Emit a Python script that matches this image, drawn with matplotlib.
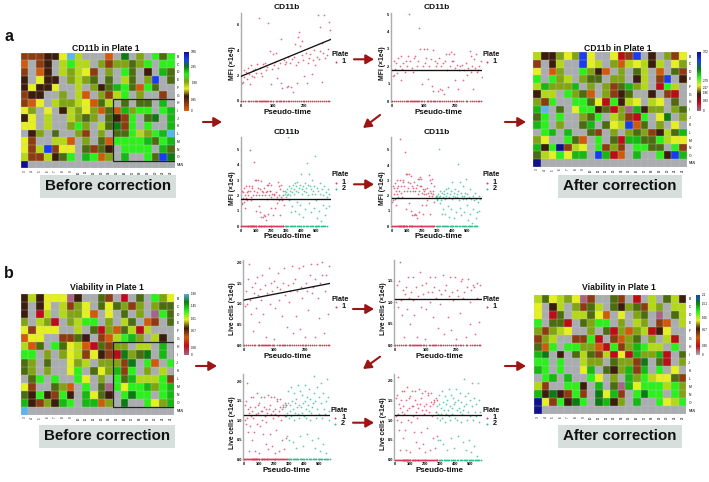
"""
Plate heatmaps and pseudo-time scatter panels, before and after correction
"""

import numpy as np
import matplotlib
matplotlib.use("Agg")
import matplotlib.pyplot as plt
from matplotlib.colors import ListedColormap, LinearSegmentedColormap
from matplotlib.patches import Rectangle

plt.rcParams["font.family"] = ["Liberation Sans", "DejaVu Sans"]
plt.rcParams["font.weight"] = "bold"

W, H = 709, 482

# ------------------------------------------------------------
# HEATMAPS (one character per well, "." = empty well)
# ------------------------------------------------------------
CELL_CODES = "0123456789abcde"
CELL_COLORS = ["#cf5a0c", "#8c3c10", "#3c1c0c", "#e6f01e", "#b4d818", "#80a414", "#4c6c10",
               "#2cf01c", "#18b814", "#0e7a14", "#1a3cf0", "#10108c", "#5ab4f0", "#bc0c18", "#a86484"]
ROW_LABELS = list("BCDEFGHIJKLMNO") + ["NAN"]
COL_LABELS = [str(i) for i in range(3, 23)]

cd11b_before = ["111223c4...0.9.5.767", "0.12.4744.5155657.77", "1.02.45431.5.76.2.86", "2.322.5456.6.46.5a.6",
                "23223..4.526876076..", "122..5.40.5147.5..1.", "103.45543064.6.66.8.", "35.3.245350608577.78",
                "23.4..4565.6217.69.8", "33.4..575.46917.7..8", ".25.6..51.5.6674578c", "31..440.5.6077778678",
                "314a133.6162.7777.86", "4114267.8705.8..76a9", "b..................."]
cd11b_after = ["422535a3..3d1a.2.513", "1.24..a34.5043424.35", "3.05..7520.5.64.0.61", "7.754.566.55.24.1a.2",
               "485558.5.516854.d74.", "244.7560.5126..2.1d.", "517..7763d7243.43.6.", "8c.6.37726d5e8255.56",
               "67.7..567.451d7.39.5", "87.5..68.634a06.5.3.", ".78.8..61.5.56512468", "53..760.7.6d88667433",
               "827b143.7151.7766.71", "6437388.a8d0.8..72a8", "b..................."]
via_before = ["242333e2..61.d.6.753", "2.23.4153.636515.566", "2.d4.45530.3.6.5.e76", "5.45d.5477.5.46.01.6",
              "31333..4.6d5064d4...", "033..1162.104785.42.", "406.76340d6155.44.8.", "77.5.5341321d9569.8.",
              "65.6..354.55519.70.7", "65.5..37.635817.5.4.", ".67.7..73.5.76844471", "31..650.7.6e73778578",
              "6272172.8362.7977.78", "8215287.8805.9..7358", "c..................."]
via_after = ["463453e1..61.d.4.642", "3.24.5164.6256145.44", "3.d6.44630.3.56.e.64", "7.66d.6577.5.45.10.4",
             "51543..5.6d5054d23..", "154..117d.1056.5.4d.", "607.77550d7158744.7.", "89.2.64614d3d8558d.6",
             "77.7..455.65519.6d.5", "87.7..38.625818.7.3.", ".78.8..73.5.85743361", "41..772.8.6e83777475",
             "8292171.9381.7977.75", "b317297.9825.8..7347", "b..................."]

cbar_cd11b_before = ["#e0600f", "#8a3a10", "#3a1a08", "#e8f01e", "#7ea010", "#2cf01c", "#0e7a14", "#1a3cf0", "#10108c"]
cbar_cd11b_after = ["#a86484", "#bc0c18", "#3c1c0c", "#e6f01e", "#2cf01c", "#0e7a14", "#1a3cf0", "#10108c"]
cbar_via_before = ["#a86484", "#bc0c18", "#cf5a0c", "#3c1c0c", "#e6f01e", "#2cf01c", "#0e7a14", "#5ab4f0"]
cbar_via_after = ["#a9adb0", "#bc0c18", "#cf5a0c", "#3c1c0c", "#e6f01e", "#2cf01c", "#0e7a14", "#1a3cf0"]
cbar_ticks_cd11b_before = ["0", "0.95", "1.90", "2.85", "3.80"]
cbar_ticks_cd11b_after = ["0", "0.93", "1.86", "2.17", "2.79", "3.72"]
cbar_ticks_via_before = ["0", "0.28", "0.57", "1.01", "1.45", "1.90"]
cbar_ticks_via_after = ["0", "0.30", "0.57", "1.06", "1.51", "2.1"]

# ------------------------------------------------------------
# SCATTER DATA, CD11b
# ------------------------------------------------------------
cd11b_x1 = [2, 5, 8, 10, 14, 17, 20, 24, 27, 30, 33, 36, 40, 43, 47, 50, 55, 58, 62, 66, 70, 74, 78, 82, 85,
            90, 95, 98, 100, 104, 108, 110, 115, 118, 122, 125, 128, 130, 135, 138, 142, 145, 148, 150, 155,
            158, 162, 165, 168, 170, 174, 178, 180, 182, 185, 188, 192, 195, 198, 200, 205, 208, 212, 216, 220,
            225, 228, 232, 236, 240, 245, 248, 250, 252, 256, 258, 262, 265, 268, 272, 276, 280, 283]
cd11b_raw = [1.4, 1.5, 2.4, 1.9, 2.3, 1.7, 2.6, 2.1, 1.3, 2.8, 2.0, 2.4, 1.9, 2.5, 2.2, 2.9, 6.5, 2.6, 2.2, 2.0,
             2.9, 3.0, 2.4, 2.7, 6.1, 3.9, 1.3, 2.5, 3.7, 2.8, 3.1, 3.8, 1.8, 2.6, 3.0, 1.4, 4.9, 1.0, 3.2, 2.9,
             3.1, 1.1, 3.5, 1.2, 3.0, 1.1, 3.3, 0.7, 3.5, 4.5, 2.8, 1.4, 5.0, 3.1, 5.4, 4.3, 3.6, 4.7, 3.2, 2.0,
             3.8, 1.4, 3.0, 3.4, 3.7, 2.1, 3.2, 4.0, 2.8, 3.5, 6.8, 3.3, 5.8, 3.9, 1.5, 4.6, 3.8, 6.75, 3.4, 3.6,
             4.1, 6.2, 5.6]
cd11b_flat = [1.45, 1.5, 2.3, 1.85, 2.2, 1.6, 2.5, 2.0, 1.2, 2.6, 1.85, 2.2, 1.7, 2.3, 2.0, 2.6, 5.0, 2.3, 1.9, 1.7,
              2.5, 2.6, 2.0, 2.3, 4.2, 3.0, 1.0, 2.0, 3.0, 2.2, 2.5, 3.0, 1.3, 2.0, 2.4, 0.9, 2.95, 0.6, 2.3, 2.0,
              2.2, 0.6, 2.5, 0.7, 2.0, 0.65, 2.2, 0.4, 2.3, 2.7, 1.8, 0.8, 2.7, 2.0, 2.8, 2.3, 2.3, 2.7, 1.9, 1.2,
              2.1, 0.7, 1.8, 2.0, 2.1, 1.2, 1.8, 2.2, 1.5, 1.9, 2.9, 1.7, 2.6, 2.0, 0.7, 2.4, 1.9, 2.7, 1.7, 1.8,
              2.0, 2.3, 1.4]
cd11b_corr1 = [1.6, 1.7, 2.6, 2.1, 2.5, 1.8, 2.8, 2.3, 1.4, 3.0, 2.1, 2.5, 1.9, 2.6, 2.3, 3.0, 5.75, 2.6, 2.2, 1.9,
               2.9, 3.0, 2.3, 2.6, 4.85, 3.4, 1.15, 2.3, 3.4, 2.5, 2.9, 3.4, 1.5, 2.3, 2.8, 1.0, 3.3, 0.7, 2.6, 2.3,
               2.5, 0.7, 2.9, 0.8, 2.3, 0.75, 2.5, 0.5, 2.7, 3.1, 2.1, 0.9, 3.1, 2.3, 3.2, 2.6, 2.6, 3.1, 2.2, 1.4,
               2.4, 0.8, 2.1, 2.3, 2.4, 1.4, 2.1, 2.5, 1.7, 2.2, 3.35, 2.0, 3.0, 2.3, 0.8, 2.8, 2.2, 3.1, 2.0, 2.1,
               2.3, 2.6, 1.6]
cd11b_x2 = [290, 294, 297, 300, 303, 306, 310, 313, 317, 320, 323, 327, 330, 334, 337, 341, 344, 348, 351, 355,
            358, 362, 366, 370, 374, 378, 382, 386, 390, 394, 398, 402, 406, 410, 414, 418, 422, 426, 430, 434,
            438, 442, 446, 450, 454, 458, 462, 466, 470, 474, 478, 482, 486, 490, 494, 498, 502, 507, 512, 517,
            522, 527, 532, 537, 542, 547, 552, 557, 562, 567, 572, 577, 582, 587]
cd11b_plate2 = [2.1, 2.3, 1.9, 2.2, 2.0, 2.4, 5.8, 2.1, 1.7, 2.6, 2.3, 2.0, 0.9, 2.5, 2.2, 1.3, 2.7, 2.4, 2.1, 1.0,
                2.8, 2.3, 2.6, 1.6, 2.9, 2.2, 0.8, 2.5, 2.7, 1.4, 3.4, 2.1, 2.4, 0.6, 2.6, 2.3, 2.8, 1.1, 2.5, 2.2,
                4.1, 2.7, 2.0, 3.4, 1.5, 2.6, 0.9, 2.4, 2.1, 3.0, 2.3, 1.2, 2.6, 4.6, 2.1, 1.7, 2.5, 0.5, 2.3, 1.0,
                2.8, 2.1, 0.3, 2.4, 1.4, 2.0, 2.6, 0.7, 2.2, 1.2, 1.9, 2.4, 1.3, 2.1]
cd11b_corr2 = [1.9, 2.0, 1.7, 2.0, 1.8, 2.1, 5.05, 1.9, 1.5, 2.3, 2.0, 1.7, 0.8, 2.2, 1.9, 1.1, 2.3, 2.1, 1.8, 0.8,
               2.4, 2.0, 2.2, 1.3, 2.5, 1.9, 0.6, 2.1, 2.3, 1.1, 2.9, 1.8, 2.0, 0.5, 2.2, 1.9, 2.4, 0.9, 2.1, 1.9,
               4.05, 2.3, 1.7, 2.9, 1.2, 2.2, 0.7, 2.0, 1.8, 2.6, 2.0, 0.9, 2.2, 3.1, 1.8, 1.4, 2.1, 0.4, 1.9, 0.8,
               2.4, 1.8, 0.2, 2.0, 1.1, 1.7, 2.2, 0.5, 1.8, 0.9, 1.6, 2.0, 1.0, 1.8]

# ------------------------------------------------------------
# SCATTER DATA, VIABILITY
# ------------------------------------------------------------
via_x1 = [3, 5, 9, 13, 15, 19, 22, 25, 29, 31, 35, 39, 42, 46, 49, 52, 57, 60, 63, 68, 71, 76, 81, 84, 88,
          91, 97, 100, 103, 108, 113, 116, 120, 125, 128, 131, 136, 141, 144, 147, 152, 157, 160, 163, 168,
          173, 176, 180, 185, 188, 191, 196, 201, 204, 207, 212, 217, 220, 223, 228, 233, 236, 240, 245, 248,
          251, 256, 259, 264, 268, 271, 276, 280]
via_raw = [0.95, 1.3, 1.0, 1.6, 1.97, 1.1, 0.75, 1.4, 0.35, 1.25, 1.5, 0.9, 1.65, 1.2, 0.55, 1.35, 1.1, 1.7, 0.75, 1.45,
           0.2, 1.25, 1.85, 1.0, 1.5, 1.3, 0.15, 1.55, 0.9, 1.4, 1.75, 1.1, 1.35, 0.7, 1.5, 1.85, 1.2, 0.45, 1.45, 1.05,
           1.3, 1.9, 0.3, 1.5, 1.6, 0.7, 1.3, 1.85, 0.4, 1.4, 1.15, 1.9, 0.2, 1.5, 1.3, 0.85, 1.7, 1.95, 1.25, 1.4,
           0.2, 1.6, 1.95, 1.15, 0.65, 1.5, 1.7, 2.0, 0.3, 1.3, 1.7, 0.75, 1.9]
via_flat = [1.0, 1.4, 0.9, 1.5, 1.95, 1.05, 0.7, 1.3, 0.2, 1.2, 1.35, 0.85, 1.6, 1.1, 0.5, 1.25, 1.05, 1.6, 0.7, 1.35,
            0.2, 1.15, 1.7, 0.9, 1.4, 1.2, 0.15, 1.45, 0.85, 1.25, 1.6, 1.0, 1.25, 0.65, 1.35, 1.6, 1.1, 0.4, 1.3, 0.95,
            1.2, 1.65, 0.25, 1.3, 1.4, 0.65, 1.15, 1.6, 0.35, 1.25, 1.05, 1.6, 0.15, 1.3, 1.15, 0.75, 1.5, 1.55, 1.1, 1.25,
            0.2, 1.35, 1.55, 1.0, 0.5, 1.3, 1.4, 1.35, 0.25, 1.1, 1.45, 0.55, 1.4]
via_corr1 = [1.1, 1.55, 1.0, 1.65, 2.1, 1.15, 0.75, 1.4, 0.25, 1.3, 1.5, 0.95, 1.75, 1.2, 0.55, 1.35, 1.15, 1.75, 0.75, 1.5,
             0.25, 1.25, 1.85, 1.0, 1.55, 1.3, 0.2, 1.6, 0.95, 1.35, 1.75, 1.1, 1.35, 0.7, 1.5, 1.75, 1.2, 0.45, 1.4, 1.05,
             1.3, 1.8, 0.3, 1.4, 1.55, 0.7, 1.25, 1.7, 0.4, 1.35, 1.15, 1.75, 0.2, 1.4, 1.25, 0.8, 1.65, 1.7, 1.2, 1.35,
             0.25, 1.45, 1.7, 1.1, 0.55, 1.4, 1.5, 1.45, 0.3, 1.2, 1.55, 0.6, 1.5]
via_x2 = [272, 276, 279, 283, 286, 290, 293, 297, 300, 304, 307, 311, 314, 318, 321, 325, 328, 332, 336, 340,
          343, 347, 351, 355, 358, 362, 366, 370, 374, 378, 381, 385, 389, 393, 397, 401, 405, 408, 412, 416,
          420, 424, 428, 432, 436, 440, 444, 448, 452, 456, 461, 465, 469, 474, 478, 483, 487, 491, 496, 500,
          505, 509, 514, 518, 523, 527, 532, 536, 541, 546, 551, 556, 561, 566]
via_plate2 = [1.35, 1.1, 1.4, 0.6, 1.2, 1.45, 1.75, 1.05, 0.5, 1.4, 1.25, 1.85, 1.1, 1.5, 0.45, 1.3, 1.7, 1.0, 1.45, 1.2,
              0.3, 1.55, 1.35, 1.9, 1.15, 1.4, 1.05, 1.75, 0.6, 1.35, 1.2, 1.65, 1.45, 0.35, 1.1, 1.5, 1.9, 1.3, 1.05, 1.6,
              0.65, 1.4, 1.8, 1.25, 1.0, 1.55, 1.2, 1.35, 0.5, 1.45, 2.15, 1.7, 0.3, 1.5, 1.05, 1.85, 1.3, 0.55, 1.6, 1.15,
              0.2, 1.45, 1.95, 1.05, 1.7, 0.4, 1.3, 1.15, 1.5, 0.15, 2.07, 1.6, 1.0, 1.25]
via_corr2 = [1.2, 1.05, 1.35, 0.5, 1.15, 1.4, 1.65, 1.0, 0.5, 1.3, 1.15, 1.75, 1.05, 1.45, 0.4, 1.25, 1.6, 0.95, 1.4, 1.15,
             0.25, 1.5, 1.25, 1.8, 1.1, 1.35, 1.0, 1.65, 0.55, 1.3, 1.15, 1.55, 1.4, 0.3, 1.05, 1.45, 1.8, 1.25, 1.0, 1.5,
             0.6, 1.3, 1.7, 1.2, 0.95, 1.45, 1.15, 1.25, 0.45, 1.35, 2.05, 1.6, 0.25, 1.4, 1.0, 1.7, 1.2, 0.5, 1.5, 1.1,
             0.2, 1.35, 1.93, 1.0, 1.55, 0.35, 1.2, 1.1, 1.4, 0.1, 1.93, 1.5, 0.95, 1.2]

# wells that read exactly zero, one list per plate
zero_x1 = [0, 6, 12, 20, 26, 31, 37, 45, 48, 50, 56, 59, 62, 66, 70, 73, 76, 80, 83, 86, 92, 95, 100, 110, 115, 120,
           124, 128, 132, 136, 142, 148, 152, 158, 165, 170, 178, 184, 190, 196, 201, 206, 212, 218, 225, 232, 238,
           246, 252, 258, 264, 270, 276, 281]
zero_x2 = [292, 298, 305, 314, 322, 330, 338, 345, 352, 360, 368, 376, 384, 392, 400, 408, 418, 428, 436, 446, 456,
           464, 472, 480, 488, 496, 504, 512, 520, 528, 536, 544, 552, 560, 568]

# fit lines, value at the start and at the end of the axis
line_raw = [1.95, 4.85]
line_flat = [1.79, 1.79]
line_p3 = [1.75, 1.75]
line_p4 = [1.81, 1.81]
line_via_raw = [1.09, 1.49]
line_via_flat = [1.08, 1.08]
line_via_p7 = [1.13, 1.13]
line_via_p8 = [1.12, 1.12]

COLOR_P1 = "#dc3a5a"
COLOR_P2 = "#2fbc8c"
COLOR_GRAY = "#a9adb0"
COLOR_ARROW = "#9c1414"
COLOR_BOX = "#d6dfdc"

fig = plt.figure(figsize=(W / 100, H / 100), dpi=100, facecolor="white")


def px_axes(left, top, right, bottom, **kw):
    return fig.add_axes([left / W, 1 - bottom / H, (right - left) / W, (bottom - top) / H], **kw)


# overlay in pixel coordinates for labels, arrows and legends
over = fig.add_axes([0, 0, 1, 1], zorder=5)
over.set_xlim(0, W)
over.set_ylim(H, 0)
over.axis("off")


def draw_heatmap(rows, box, cbar_box, cbar_colors, cbar_ticks, cbar_pos, title, title_xy, frame=False):
    ax = px_axes(*box)
    cells = np.array([[CELL_CODES.find(c) for c in r] for r in rows], dtype=float)
    cells = np.ma.masked_less(cells, 0)
    cmap = ListedColormap(CELL_COLORS)
    cmap.set_bad(COLOR_GRAY)
    ax.set_facecolor(COLOR_GRAY)
    ax.pcolormesh(cells, cmap=cmap, vmin=-0.5, vmax=len(CELL_CODES) - 0.5, edgecolors="none", antialiased=False)
    ax.set_xlim(0, 20)
    ax.set_ylim(15, 0)
    ax.set_xticks(np.arange(20) + 0.5)
    ax.set_xticklabels(COL_LABELS, fontsize=2.2, rotation=90, fontweight="normal")
    ax.yaxis.tick_right()
    ax.set_yticks(np.arange(15) + 0.5)
    ax.set_yticklabels(ROW_LABELS, fontsize=2.4, fontweight="normal")
    ax.set_xticks(np.arange(21), minor=True)
    ax.set_yticks(np.arange(16), minor=True)
    ax.grid(which="minor", color="#c6c8ca", linewidth=0.25)
    ax.set_axisbelow(False)
    ax.tick_params(which="both", length=0, pad=1.5)
    for spine in ax.spines.values():
        spine.set_visible(False)
    if frame:
        ax.add_patch(Rectangle((12, 6), 8, 8, fill=False, edgecolor="#222222", linewidth=0.9, zorder=4))
    over.text(title_xy[0], title_xy[1], title, ha="center", va="center", fontsize=6.2, color="#111111")

    cax = px_axes(*cbar_box)
    ramp = np.linspace(0, 1, 128).reshape(-1, 1)
    cax.imshow(ramp, aspect="auto", origin="lower", cmap=LinearSegmentedColormap.from_list("bar", cbar_colors))
    cax.axis("off")
    for lab, frac in zip(cbar_ticks, cbar_pos):
        y = cbar_box[3] - frac * (cbar_box[3] - cbar_box[1])
        over.text(cbar_box[2] + 2, y, lab, fontsize=2.2, va="center", ha="left", fontweight="normal")


def draw_scatter(box, xlim, ylim, xticks, yticks, ylabels, plates, fit, ylabel, ylabel_gap, title=None, legend=None, xlabel_xy=None):
    ax = px_axes(*box)
    ax.patch.set_alpha(0)
    for x, y, zero, col in plates:
        ax.scatter(zero, np.zeros(len(zero)), s=1.6, color=col, linewidths=0, clip_on=False, zorder=3)
        ax.scatter(x, y, s=1.6, color=col, linewidths=0, alpha=0.75, zorder=2)
    ax.plot([0, xlim[1]], fit, color="#111111", linewidth=0.95, zorder=4)
    ax.set_xlim(*xlim)
    ax.set_ylim(*ylim)
    ax.set_xticks(xticks)
    ax.set_yticks(yticks)
    ax.set_xticklabels([str(t) for t in xticks], fontsize=2.8)
    ax.set_yticklabels(ylabels, fontsize=2.8)
    ax.tick_params(length=0.6, width=0.3, pad=0.5, color="#444444")
    for name in ["top", "right", "bottom"]:
        ax.spines[name].set_visible(False)
    ax.spines["left"].set_color(COLOR_GRAY)
    ax.spines["left"].set_linewidth(1.0)
    over.text(box[0] - ylabel_gap, (box[1] + box[3]) / 2 + 6, ylabel, rotation=90, ha="center", va="center", fontsize=4.9, color="#111111")
    over.text(xlabel_xy[0], xlabel_xy[1], "Pseudo-time", ha="center", va="center", fontsize=5.8, color="#111111")
    if title:
        over.text(title[0], title[1], "CD11b", ha="center", va="center", fontsize=6, color="#111111")
    # plate legend
    lx, ly = legend
    over.text(lx + 4, ly, "Plate", ha="center", va="center", fontsize=5.2, color="#111111")
    for i, (x, y, zero, col) in enumerate(plates):
        yy = ly + 7.5 + i * 6.4
        over.scatter([lx], [yy], s=2, color=col, linewidths=0)
        over.text(lx + 6, yy, str(i + 1), ha="left", va="center", fontsize=5.2, color="#111111")


def draw_arrow(x0, y0, x1, y1):
    over.annotate("", xy=(x1, y1), xytext=(x0, y0),
                  arrowprops=dict(arrowstyle="-|>,head_length=0.48,head_width=0.28", color=COLOR_ARROW,
                                  linewidth=1.5, shrinkA=0, shrinkB=0))


# ------------------------------------------------------------
# LEFT AND RIGHT HEATMAPS
# ------------------------------------------------------------
draw_heatmap(cd11b_before, (20.7, 52.7, 174.7, 168.3), (184.3, 52.3, 189.3, 110.7), cbar_cd11b_before,
             cbar_ticks_cd11b_before, [0, 0.19, 0.47, 0.74, 1], "CD11b in Plate 1", (105.7, 48.2), frame=True)
draw_heatmap(cd11b_after, (533.3, 52.3, 686.7, 166.7), (696.7, 52.3, 700.7, 110.7), cbar_cd11b_after,
             cbar_ticks_cd11b_after, [0, 0.17, 0.3, 0.39, 0.51, 1], "CD11b in Plate 1", (618, 48.2))
draw_heatmap(via_before, (20.7, 294.3, 174.3, 414.7), (184, 294, 189, 355.3), cbar_via_before,
             cbar_ticks_via_before, [0, 0.12, 0.4, 0.6, 0.8, 1], "Viability in Plate 1", (106.7, 288), frame=True)
draw_heatmap(via_after, (534, 295, 686.3, 414), (696, 295, 700, 355.3), cbar_via_after,
             cbar_ticks_via_after, [0, 0.15, 0.42, 0.62, 0.85, 1], "Viability in Plate 1", (619, 288))

for text, (x0, y0, x1, y1) in [("Before correction", (40, 175, 175.7, 198)), ("After correction", (558, 175, 681.7, 198)),
                               ("Before correction", (39, 425, 175, 448)), ("After correction", (558, 425, 682, 448))]:
    over.add_patch(Rectangle((x0, y0), x1 - x0, y1 - y0, facecolor=COLOR_BOX, edgecolor="none"))
    over.text((x0 + x1) / 2, (y0 + y1) / 2, text, ha="center", va="center", fontsize=10.9, color="#111111")

over.text(9, 36.5, "a", ha="center", va="center", fontsize=11.5, color="#111111")
over.text(9, 274, "b", ha="center", va="center", fontsize=11.5, color="#111111")

# ------------------------------------------------------------
# SCATTER PANELS
# ------------------------------------------------------------
MFI = "MFI (×1e4)"
LIVE = "Live cells (×1e4)"
t3 = [0, 100, 200]
t6 = [0, 100, 200, 300, 400, 500]
v = [0.0, 0.5, 1.0, 1.5, 2.0]
v_lab = ["0.0", "0.5", "1.0", "1.5", "2.0"]

draw_scatter((240.7, 13.3, 331, 102), (-2, 286), (-0.08, 6.9), t3, [0, 2, 4, 6], ["0", "2", "4", "6"],
             [(cd11b_x1, cd11b_raw, zero_x1, COLOR_P1)], line_raw, MFI, 8, (286.3, 7.7), (335.7, 54), (288, 112.3))
draw_scatter((391, 13, 481.7, 102), (-3, 283), (-0.04, 5.06), t3, [0, 1, 2, 3, 4, 5], list("012345"),
             [(cd11b_x1, cd11b_flat, zero_x1, COLOR_P1)], line_flat, MFI, 8, (437, 7.7), (486.7, 54), (438.3, 112.3))
draw_scatter((240.7, 137.3, 330.7, 227), (-4, 596), (-0.065, 5.81), t6, [0, 1, 2, 3, 4, 5], list("012345"),
             [(cd11b_x1, cd11b_flat, zero_x1, COLOR_P1), (cd11b_x2, cd11b_plate2, zero_x2, COLOR_P2)],
             line_p3, MFI, 8, (286.3, 132), (335.7, 175), (288, 236.7))
draw_scatter((391, 137, 481.7, 227), (-7, 598), (-0.065, 5.85), t6, [0, 1, 2, 3, 4, 5], list("012345"),
             [(cd11b_x1, cd11b_corr1, zero_x1, COLOR_P1), (cd11b_x2, cd11b_corr2, zero_x2, COLOR_P2)],
             line_p4, MFI, 8, (437, 132), (486.7, 175), (438.3, 236.7))
draw_scatter((243.3, 260, 330, 346), (-3, 284), (-0.02, 2.055), t3, v, v_lab,
             [(via_x1, via_raw, zero_x1, COLOR_P1)], line_via_raw, LIVE, 10.5, None, (335.7, 299.3), (287, 356))
draw_scatter((394.3, 260, 481.7, 346), (-3, 285), (-0.02, 1.99), t3, v[:-1], v_lab[:-1],
             [(via_x1, via_flat, zero_x1, COLOR_P1)], line_via_flat, LIVE, 10.5, None, (486.7, 299.3), (439, 356))
draw_scatter((243.3, 374, 330, 460), (-7, 571), (-0.02, 2.19), t6, v, v_lab,
             [(via_x1, via_flat, zero_x1, COLOR_P1), (via_x2, via_plate2, zero_x2, COLOR_P2)],
             line_via_p7, LIVE, 10.5, None, (335, 410), (286.7, 470))
draw_scatter((394.3, 374, 481.7, 460.4), (-7, 576), (-0.02, 2.17), t6, v, v_lab,
             [(via_x1, via_corr1, zero_x1, COLOR_P1), (via_x2, via_corr2, zero_x2, COLOR_P2)],
             line_via_p8, LIVE, 10.5, None, (486.7, 410), (439, 470))

# ------------------------------------------------------------
# ARROWS
# ------------------------------------------------------------
for a in [(203, 122, 222, 122), (354, 59.3, 374, 59.3), (380, 115, 363, 128), (354, 184.3, 374, 184.3), (505, 122, 526, 122),
          (196, 366, 217, 366), (353, 309, 374, 309), (380, 356.7, 363, 369), (353, 422.7, 374, 422.7), (505, 366, 526, 366)]:
    draw_arrow(*a)

fig.savefig("out.png", dpi=100)
